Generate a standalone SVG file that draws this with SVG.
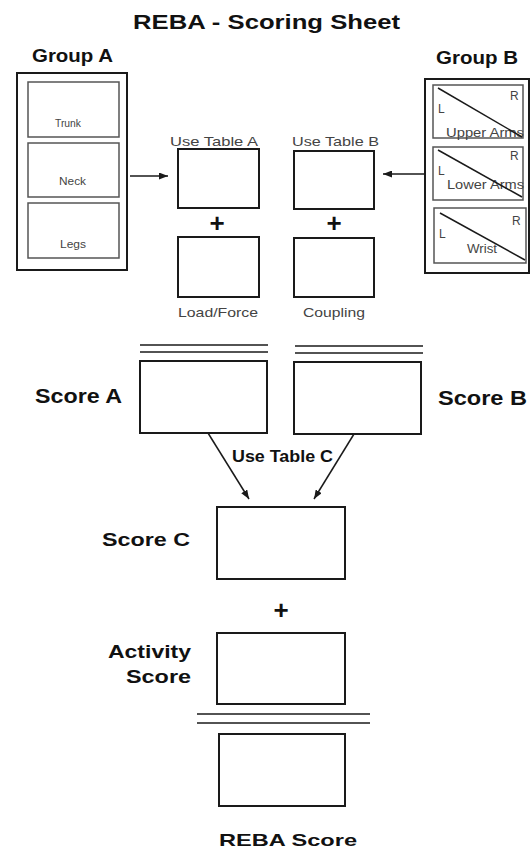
<svg xmlns="http://www.w3.org/2000/svg" width="532" height="852" viewBox="0 0 532 852">
  <defs>
    <style>
      .box { fill: #fff; stroke: #1a1a1a; stroke-width: 2; }
      .outer { fill: #fff; stroke: #1a1a1a; stroke-width: 2; }
      .inner { fill: #fff; stroke: #555; stroke-width: 1.5; }
      .diag { stroke: #1a1a1a; stroke-width: 1.5; }
      .dbl { stroke: #1a1a1a; stroke-width: 1.6; }
      .conn { stroke: #1a1a1a; stroke-width: 1.5; fill: none; }
      .h { font-family: "Liberation Sans", Arial, sans-serif; font-weight: bold; fill: #111; }
      .s { font-family: "Liberation Sans", Arial, sans-serif; fill: #444; }
      .plus { font-family: "Liberation Sans", Arial, sans-serif; font-weight: bold; fill: #111; font-size: 26px; text-anchor: middle; }
    </style>
    <marker id="ah" markerUnits="userSpaceOnUse" markerWidth="9" markerHeight="7" refX="9" refY="3.5" orient="auto">
      <path d="M0,0 L9,3.5 L0,7 z" fill="#1a1a1a"/>
    </marker>
  </defs>
  <rect width="532" height="852" fill="#fff"/>

  <text class="h" x="133" y="29" font-size="20" textLength="267" lengthAdjust="spacingAndGlyphs">REBA - Scoring Sheet</text>

  <g id="groupA">
    <text class="h" x="32" y="62" font-size="19" textLength="81" lengthAdjust="spacingAndGlyphs">Group A</text>
    <rect class="outer" x="17" y="73" width="110" height="197"/>
    <g id="trunk">
      <rect class="inner" x="28" y="82" width="91" height="55"/>
      <text class="s" x="55" y="127" font-size="10.5" textLength="26" lengthAdjust="spacingAndGlyphs">Trunk</text>
    </g>
    <g id="neck">
      <rect class="inner" x="28" y="143" width="91" height="54"/>
      <text class="s" x="59" y="185" font-size="10.5" textLength="27" lengthAdjust="spacingAndGlyphs">Neck</text>
    </g>
    <g id="legs">
      <rect class="inner" x="28" y="203" width="91" height="55"/>
      <text class="s" x="60" y="248" font-size="10.5" textLength="26" lengthAdjust="spacingAndGlyphs">Legs</text>
    </g>
  </g>

  <g id="tableA">
    <text class="s" x="170" y="146" font-size="13" textLength="88" lengthAdjust="spacingAndGlyphs">Use Table A</text>
    <rect class="box" x="178" y="149" width="81" height="59"/>
  </g>
  <text class="plus" x="217" y="232">+</text>
  <g id="loadForce">
    <rect class="box" x="178" y="237" width="81" height="60"/>
    <text class="s" x="178" y="317" font-size="13" textLength="80" lengthAdjust="spacingAndGlyphs">Load/Force</text>
  </g>

  <g id="tableB">
    <text class="s" x="292" y="146" font-size="13" textLength="87" lengthAdjust="spacingAndGlyphs">Use Table B</text>
    <rect class="box" x="294" y="151" width="80" height="58"/>
  </g>
  <text class="plus" x="334" y="232">+</text>
  <g id="coupling">
    <rect class="box" x="294" y="238" width="80" height="59"/>
    <text class="s" x="303" y="317" font-size="13" textLength="62" lengthAdjust="spacingAndGlyphs">Coupling</text>
  </g>

  <g id="groupB">
    <text class="h" x="436" y="64" font-size="19" textLength="82" lengthAdjust="spacingAndGlyphs">Group B</text>
    <rect class="outer" x="425" y="79" width="104" height="194"/>
    <g id="upperArms">
      <rect class="inner" x="433" y="85" width="90" height="53"/>
      <text class="s" x="446" y="137" font-size="12" textLength="78" lengthAdjust="spacingAndGlyphs">Upper Arms</text>
      <line class="diag" x1="438" y1="88" x2="522" y2="137"/>
      <text class="s" x="510" y="100" font-size="12">R</text>
      <text class="s" x="438" y="113" font-size="12">L</text>
    </g>
    <g id="lowerArms">
      <rect class="inner" x="433" y="147" width="90" height="53"/>
      <text class="s" x="447" y="189" font-size="12" textLength="77" lengthAdjust="spacingAndGlyphs">Lower Arms</text>
      <line class="diag" x1="438" y1="150" x2="522" y2="197"/>
      <text class="s" x="510" y="160" font-size="12">R</text>
      <text class="s" x="438" y="175" font-size="12">L</text>
    </g>
    <g id="wrist">
      <rect class="inner" x="434" y="208" width="92" height="55"/>
      <text class="s" x="467" y="253" font-size="12" textLength="30" lengthAdjust="spacingAndGlyphs">Wrist</text>
      <line class="diag" x1="440" y1="213" x2="525" y2="260"/>
      <text class="s" x="512" y="225" font-size="12">R</text>
      <text class="s" x="439" y="238" font-size="12">L</text>
    </g>
  </g>

  <g id="scoreA">
    <line class="dbl" x1="140" y1="345" x2="268" y2="345"/>
    <line class="dbl" x1="140" y1="352" x2="268" y2="352"/>
    <rect class="box" x="140" y="361" width="127" height="72"/>
    <text class="h" x="35" y="403" font-size="20" textLength="87" lengthAdjust="spacingAndGlyphs">Score A</text>
  </g>

  <g id="scoreB">
    <line class="dbl" x1="295" y1="346" x2="423" y2="346"/>
    <line class="dbl" x1="295" y1="353" x2="423" y2="353"/>
    <rect class="box" x="294" y="362" width="127" height="72"/>
    <text class="h" x="438" y="405" font-size="20" textLength="89" lengthAdjust="spacingAndGlyphs">Score B</text>
  </g>

  <text class="h" x="232" y="462" font-size="16" textLength="101" lengthAdjust="spacingAndGlyphs">Use Table C</text>

  <g id="scoreC">
    <rect class="box" x="217" y="507" width="128" height="72"/>
    <text class="h" x="102" y="546" font-size="19" textLength="88" lengthAdjust="spacingAndGlyphs">Score C</text>
  </g>
  <text class="plus" x="281" y="619">+</text>

  <g id="activity">
    <rect class="box" x="217" y="633" width="128" height="71"/>
    <text class="h" x="108" y="658" font-size="19" textLength="83" lengthAdjust="spacingAndGlyphs">Activity</text>
    <text class="h" x="126" y="683" font-size="19" textLength="65" lengthAdjust="spacingAndGlyphs">Score</text>
  </g>

  <g id="reba">
    <line class="dbl" x1="197" y1="714" x2="370" y2="714"/>
    <line class="dbl" x1="197" y1="723" x2="370" y2="723"/>
    <rect class="box" x="219" y="734" width="126" height="72"/>
    <text class="h" x="219" y="846" font-size="17" textLength="138" lengthAdjust="spacingAndGlyphs">REBA Score</text>
  </g>

  <g id="connectors">
    <line class="conn" x1="130" y1="176" x2="168" y2="176" marker-end="url(#ah)"/>
    <line class="conn" x1="425" y1="174" x2="383" y2="174" marker-end="url(#ah)"/>
    <line class="conn" x1="208" y1="433" x2="249" y2="499" marker-end="url(#ah)"/>
    <line class="conn" x1="354" y1="434" x2="314" y2="499" marker-end="url(#ah)"/>
  </g>
</svg>
